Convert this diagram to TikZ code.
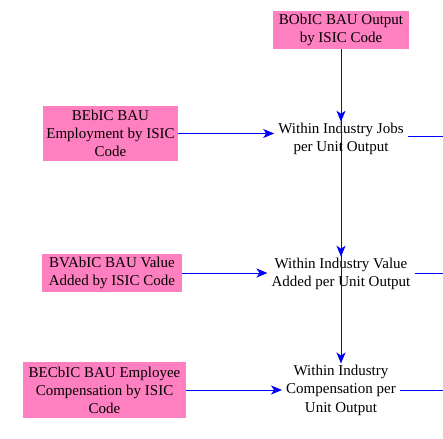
\documentclass[tikz,border=0pt]{standalone}
\usepackage{fontspec}
\setmainfont{Liberation Serif}
\usetikzlibrary{arrows.meta}
\definecolor{boxpink}{HTML}{FF80C0}
\definecolor{arrblue}{HTML}{0000FF}
\tikzset{
  srcbox/.style={draw=none, fill=boxpink, align=center, inner sep=0pt, font=\fontsize{15}{18}\selectfont},
  varnode/.style={align=center, inner xsep=4pt, inner ysep=1pt, font=\fontsize{15}{18.5}\selectfont},
  link/.style={draw=arrblue, line width=1pt, -{Stealth[length=11pt, width=9pt, inset=3pt]}},
  plainlink/.style={draw=arrblue, line width=1pt}
}
\begin{document}
\begin{tikzpicture}[x=1pt, y=-1pt]
\useasboundingbox (0,0) rectangle (443,438);
\node[srcbox, minimum width=136pt, minimum height=38pt] (bobic) at (341,30) {BObIC BAU Output\\by ISIC Code};
\node[srcbox, minimum width=135pt, minimum height=55pt] (bebic) at (110.5,133.5) {BEbIC BAU\\Employment by ISIC\\Code};
\node[srcbox, minimum width=140pt, minimum height=38pt] (bvabic) at (112,273) {BVAbIC BAU Value\\Added by ISIC Code};
\node[srcbox, minimum width=163pt, minimum height=56pt] (becbic) at (104.5,390) {BECbIC BAU Employee\\Compensation by ISIC\\Code};
\node[varnode] (jobs) at (341,139) {Within Industry Jobs\\per Unit Output};
\node[varnode] (value) at (341,274) {Within Industry Value\\Added per Unit Output};
\node[varnode] (comp) at (341,390) {Within Industry\\Compensation per\\Unit Output};
\coordinate (jobsout) at (443,137);
\coordinate (valueout) at (443,273);
\coordinate (compout) at (443,390);
\draw[link] (bobic.south) -- (jobs.north);
\draw[link] (bobic.south) -- (value.north);
\draw[link] (bobic.south) -- (comp.north);
\draw[link] (bebic.east) -- (jobs.west |- bebic.east);
\draw[link] (bvabic.east) -- (value.west |- bvabic.east);
\draw[link] (becbic.east) -- (comp.west |- becbic.east);
\draw[plainlink] (jobs.east |- jobsout) -- (jobsout);
\draw[plainlink] (value.east |- valueout) -- (valueout);
\draw[plainlink] (comp.east |- compout) -- (compout);
\end{tikzpicture}
\end{document}
